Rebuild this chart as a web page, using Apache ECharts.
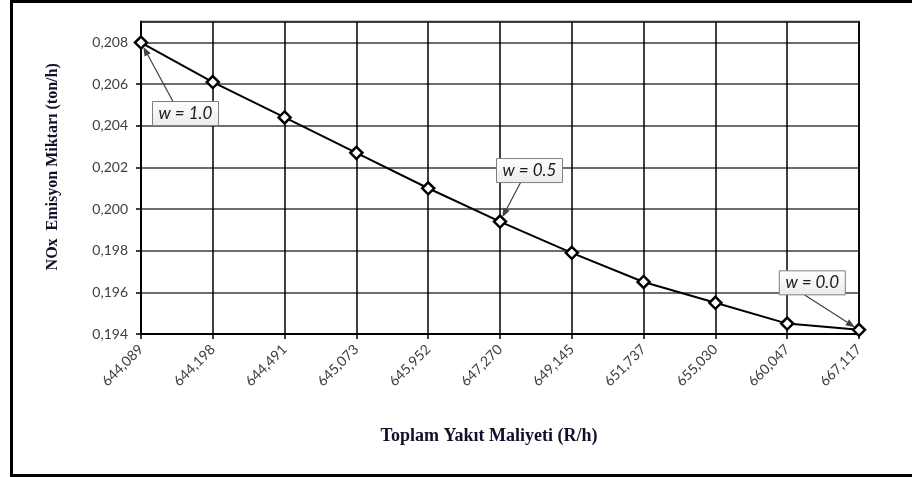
<!DOCTYPE html>
<html>
<head>
<meta charset="utf-8">
<script src="https://cdn.jsdelivr.net/npm/echarts@6/dist/echarts.min.js"></script>
<style>
html,body{margin:0;padding:0;background:#fff;}
#chart{width:912px;height:477px;}
</style>
</head>
<body>
<div id="chart"></div>
<script>
// ---- data ----
const categories = ['644,089','644,198','644,491','645,073','645,952','647,270','649,145','651,737','655,030','660,047','667,117'];
const noxValues = [0.2080, 0.2061, 0.2044, 0.2027, 0.2010, 0.1994, 0.1979, 0.1965, 0.1955, 0.1945, 0.1942];
const yMin = 0.194, yMax = 0.209, yStep = 0.002;
const xTitle = 'Toplam Yakıt Maliyeti (R/h)';
const yTitle = 'NOx  Emisyon Miktarı (ton/h)';
const annotationIdx = [0, 5, 10];
const annotationText = ['w = 1.0', 'w = 0.5', 'w = 0.0'];

// ---- styling (offsets of call-out boxes relative to their point, px) ----
const boxOffsets = [[44.5, 71], [29.5, -51], [-46.7, -47]];
const arrowTailOffsets = [[32, 101.7 - 42.7], [20.7, 183.3 - 222.7], [-54.7, 295 - 330]];
const boxSize = [66, 24];

const chart = echarts.init(document.getElementById('chart'), null, {renderer: 'canvas'});
const labelFont = 'Lato';
const option = {
  backgroundColor: '#ffffff',
  animation: false,
  grid: {left: 141, right: 53, top: 21.7, bottom: 143, show: true, borderColor: '#262626', borderWidth: 2, backgroundColor: 'transparent'},
  xAxis: {
    type: 'category',
    data: categories,
    boundaryGap: false,
    name: xTitle,
    nameLocation: 'middle',
    nameGap: 93,
    nameTextStyle: {fontFamily: 'Liberation Serif', fontWeight: 'bold', fontSize: 18, color: '#10102a', padding: [0, 22, 0, 0]},
    axisLine: {lineStyle: {color: '#000', width: 2}},
    axisTick: {show: true, alignWithLabel: true, length: 5, lineStyle: {color: '#000', width: 1.5}},
    axisLabel: {rotate: 45, margin: 13, fontFamily: labelFont, fontSize: 14, color: '#404040', interval: 0},
    splitLine: {show: true, lineStyle: {color: '#000', width: 1.5}}
  },
  yAxis: {
    type: 'value',
    min: yMin, max: yMax, interval: yStep,
    name: yTitle,
    nameLocation: 'middle',
    nameGap: 80,
    nameTextStyle: {fontFamily: 'Liberation Serif', fontWeight: 'bold', fontSize: 16, color: '#10102a', padding: [0, 0, 0, 22]},
    axisLine: {show: true, lineStyle: {color: '#000', width: 2}},
    axisTick: {show: true, length: 5, lineStyle: {color: '#000', width: 1.5}},
    axisLabel: {
      margin: 13, fontFamily: labelFont, fontSize: 14, color: '#404040',
      showMaxLabel: false,
      formatter: function (v) { return v > yMax - yStep / 4 ? '' : v.toFixed(3).replace('.', ','); }
    },
    splitLine: {show: true, lineStyle: {color: '#3c3c3c', width: 1.5}}
  },
  series: [{
    type: 'line',
    data: noxValues,
    symbol: 'diamond',
    symbolSize: 12,
    lineStyle: {color: '#000', width: 2},
    itemStyle: {color: '#fff', borderColor: '#000', borderWidth: 2.5},
    z: 5
  }]
};
chart.setOption(option);

function buildGraphics() {
  const els = [];
  // outer frame
  els.push({type: 'rect', shape: {x: 11.5, y: 1.5, width: 920, height: 474}, style: {fill: 'transparent', stroke: '#000', lineWidth: 3}, z: 100});
  annotationIdx.forEach(function (idx, i) {
    const p = chart.convertToPixel({xAxisIndex: 0, yAxisIndex: 0}, [idx, noxValues[idx]]);
    const bx = p[0] + boxOffsets[i][0], by = p[1] + boxOffsets[i][1];
    const tx = p[0] + arrowTailOffsets[i][0], ty = p[1] + arrowTailOffsets[i][1];
    const dx = p[0] - tx, dy = p[1] - ty, len = Math.sqrt(dx * dx + dy * dy);
    const ux = dx / len, uy = dy / len;
    const hx = p[0] - ux * 5, hy = p[1] - uy * 5;
    const headLen = 9, headW = 3.5;
    const baseX = hx - ux * headLen, baseY = hy - uy * headLen;
    els.push({type: 'line', shape: {x1: tx, y1: ty, x2: baseX, y2: baseY}, style: {stroke: '#404040', lineWidth: 1.2}, z: 20});
    els.push({type: 'polygon', shape: {points: [[hx, hy], [baseX - uy * headW, baseY + ux * headW], [baseX + uy * headW, baseY - ux * headW]]}, style: {fill: '#404040'}, z: 20});
    els.push({
      type: 'rect',
      shape: {x: bx - boxSize[0] / 2, y: by - boxSize[1] / 2, width: boxSize[0], height: boxSize[1]},
      style: {
        fill: new echarts.graphic.LinearGradient(0, 0, 0, 1, [{offset: 0, color: '#ffffff'}, {offset: 1, color: '#ebebeb'}]),
        stroke: '#7f7f7f', lineWidth: 1
      },
      z: 21
    });
    els.push({
      type: 'text',
      x: bx, y: by,
      style: {text: annotationText[i], fontFamily: labelFont, fontStyle: 'italic', fontSize: 17, fill: '#1a1a1a', align: 'center', verticalAlign: 'middle'},
      z: 22
    });
  });
  chart.setOption({graphic: els});
}
buildGraphics();
</script>
</body>
</html>
